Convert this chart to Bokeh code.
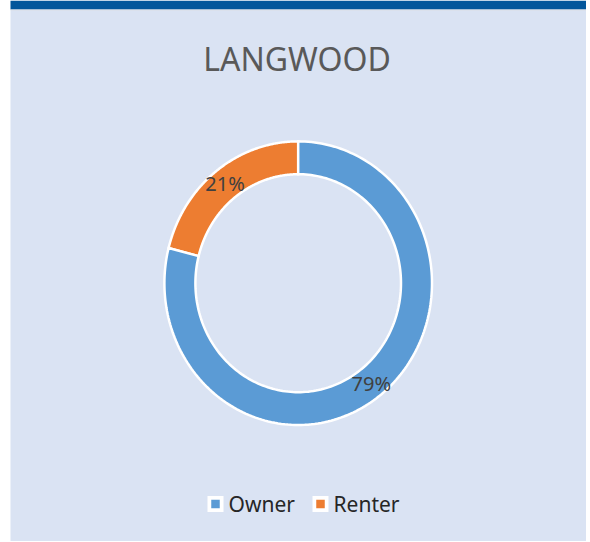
import numpy as np
from bokeh.plotting import figure
from bokeh.models import Range1d, ColumnDataSource
from bokeh.core.properties import value
from bokeh.embed import file_html
from bokeh.resources import INLINE

# ---- data ----
title_text = "LANGWOOD"
categories = ["Renter", "Owner"]      # drawn order: Renter first (counterclockwise from top)
shares = [21, 79]
colors = ["#ED7D31", "#5B9BD5"]
legend_labels = ["Owner", "Renter"]
legend_colors = ["#5B9BD5", "#ED7D31"]

W, H = 586, 541
p = figure(width=W, height=H, output_backend="svg", toolbar_location=None,
           x_range=Range1d(0, W), y_range=Range1d(H, 0), min_border=0)
p.axis.visible = False
p.grid.visible = False
p.outline_line_color = None
p.background_fill_color = "white"
p.border_fill_color = "white"

# panel background, top dark bar
p.quad(left=[10], right=[W], top=[10], bottom=[H], fill_color="#DAE3F3", line_color=None)
p.quad(left=[10], right=[W], top=[0], bottom=[9], fill_color="#02569B", line_color=None)
p.quad(left=[10], right=[W], top=[9], bottom=[10], fill_color="#C9D2E0", line_color=None)

# title
p.text(x=[296.5], y=[57.5], text=[title_text], text_font=value("Noto Sans"),
       text_font_size="32px", text_color="#595959", text_align="center",
       text_baseline="middle")

# donut (slightly stretched vertically, as in the reference)
cx, cy = 297.7, 282.7
sy = 1.06
r_out, r_in = 133.8, 102.8
frac = np.array(shares, dtype=float) / sum(shares)
ends = np.pi / 2 + 2 * np.pi * np.cumsum(frac)
starts = ends - 2 * np.pi * frac
xs, ys = [], []
for a0, a1 in zip(starts, ends):
    t = np.linspace(a0, a1, 200)
    xs.append(np.concatenate([cx + r_out * np.cos(t), cx + r_in * np.cos(t[::-1])]))
    ys.append(np.concatenate([cy - sy * r_out * np.sin(t), cy - sy * r_in * np.sin(t[::-1])]))
src = ColumnDataSource(dict(xs=xs, ys=ys, color=colors))
p.patches(xs="xs", ys="ys", fill_color="color", line_color="white", line_width=2.5,
          line_join="miter", source=src)

mid = (starts + ends) / 2
lr = (r_out + r_in) / 2 + 1
lab = ColumnDataSource(dict(x=cx + lr * np.cos(mid), y=cy - sy * lr * np.sin(mid),
                            t=[f"{s}%" for s in shares]))
p.text(x="x", y="y", text="t", source=lab, text_font=value("Noto Sans"),
       text_font_size="20px", text_color="#404040", text_align="center",
       text_baseline="middle")

# legend
lx = [215, 320]
ly = 503.5
p.scatter(x=lx, y=[ly] * 2, marker="square", size=16, fill_color="white", line_color=None)
p.scatter(x=lx, y=[ly] * 2, marker="square", size=8.5, fill_color=legend_colors, line_color=None)
p.text(x=[x + 13 for x in lx], y=[ly] * 2, text=legend_labels, text_font=value("Noto Sans"),
       text_font_size="21px", text_color="#262626", text_align="left",
       text_baseline="middle")

open("out.html", "w").write(file_html(p, INLINE))
